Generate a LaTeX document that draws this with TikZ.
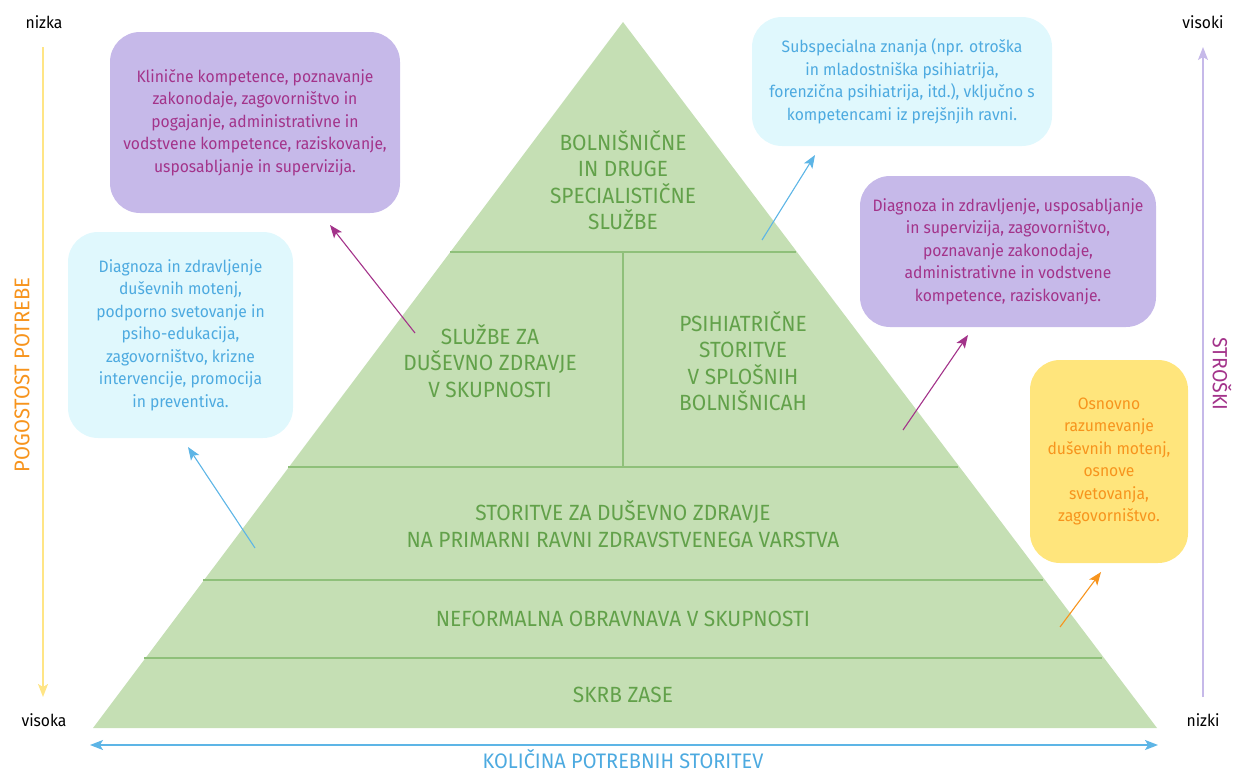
\documentclass[tikz,border=0pt]{standalone}
\usepackage{fontspec}
\setmainfont{Fira Sans}[FakeStretch=0.95]
\usetikzlibrary{arrows.meta}
\definecolor{pyrfill}{HTML}{C5DFB4}
\definecolor{pyrline}{HTML}{8FC07A}
\definecolor{pyrtext}{HTML}{62A14A}
\definecolor{lavfill}{HTML}{C6B9E9}
\definecolor{magtext}{HTML}{A3338A}
\definecolor{cyanfill}{HTML}{E0F8FD}
\definecolor{bluetext}{HTML}{4DAAE0}
\definecolor{yelfill}{HTML}{FFE57C}
\definecolor{orangetext}{HTML}{F7941D}
\definecolor{axisyellow}{HTML}{FFE585}
\definecolor{axisblue}{HTML}{5DB5E6}
\tikzset{
  box/.style={rounded corners=30pt, align=center, inner sep=0pt, font=\fontsize{16.5}{22.5}\selectfont},
  tier/.style={align=center, text=pyrtext, font=\fontsize{22}{26.5}\selectfont},
  divider/.style={draw=pyrline, line width=1.2pt},
  conn/.style={line width=1.1pt, -{Stealth[length=13pt,width=10pt,inset=3pt]}},
  axislbl/.style={font=\fontsize{16.5}{20}\selectfont, text=black},
}
\begin{document}
\begin{tikzpicture}[x=1pt,y=-1pt]
\useasboundingbox (0,0) rectangle (1233,774);
% pyramid
\fill[pyrfill] (623,22) -- (1157,728) -- (93,728) -- cycle;
\draw[divider] (450,252) -- (796,252);
\draw[divider] (288,467) -- (958,467);
\draw[divider] (203,580) -- (1043,580);
\draw[divider] (144,658) -- (1102,658);
\draw[divider] (623,252) -- (623,467);
\node[tier] (t1) at (623,180) {BOLNIŠNIČNE\\IN DRUGE\\SPECIALISTIČNE\\SLUŽBE};
\node[tier] (t2a) at (490,361) {SLUŽBE ZA\\DUŠEVNO ZDRAVJE\\V SKUPNOSTI};
\node[tier] (t2b) at (743,361) {PSIHIATRIČNE\\STORITVE\\V SPLOŠNIH\\BOLNIŠNICAH};
\node[tier] (t3) at (623,524) {STORITVE ZA DUŠEVNO ZDRAVJE\\NA PRIMARNI RAVNI ZDRAVSTVENEGA VARSTVA};
\node[tier] (t4) at (623,619) {NEFORMALNA OBRAVNAVA V SKUPNOSTI};
\node[tier] (t5) at (623,695) {SKRB ZASE};
% boxes
\node[box, fill=lavfill, text=magtext, minimum width=290pt, minimum height=181pt] (b1) at (255,122.5)
  {Klinične kompetence, poznavanje\\zakonodaje, zagovorništvo in\\pogajanje, administrativne in\\vodstvene kompetence, raziskovanje,\\usposabljanje in supervizija.};
\node[box, fill=cyanfill, text=bluetext, minimum width=300pt, minimum height=129pt] (b2) at (902,81.5)
  {Subspecialna znanja (npr. otroška\\in mladostniška psihiatrija,\\forenzična psihiatrija, itd.), vključno s\\kompetencami iz prejšnjih ravni.};
\node[box, fill=cyanfill, text=bluetext, minimum width=225pt, minimum height=206pt] (b3) at (180.5,335)
  {Diagnoza in zdravljenje\\duševnih motenj,\\podporno svetovanje in\\psiho-edukacija,\\zagovorništvo, krizne\\intervencije, promocija\\in preventiva.};
\node[box, fill=lavfill, text=magtext, minimum width=296pt, minimum height=151pt] (b4) at (1008,251.5)
  {Diagnoza in zdravljenje, usposabljanje\\in supervizija, zagovorništvo,\\poznavanje zakonodaje,\\administrativne in vodstvene\\kompetence, raziskovanje.};
\node[box, fill=yelfill, text=orangetext, minimum width=158pt, minimum height=203pt] (b5) at (1109,461.5)
  {Osnovno\\razumevanje\\duševnih motenj,\\osnove\\svetovanja,\\zagovorništvo.};
% connectors
\coordinate (s1) at (415,333); \coordinate (e1) at (330,225);
\coordinate (s2) at (762,240); \coordinate (e2) at (815,155);
\coordinate (s3) at (255,548); \coordinate (e3) at (188,447);
\coordinate (s4) at (903,430); \coordinate (e4) at (968,335);
\coordinate (s5) at (1060,627); \coordinate (e5) at (1101,572);
\draw[conn, magtext] (s1) -- (e1);
\draw[conn, axisblue] (s2) -- (e2);
\draw[conn, axisblue] (s3) -- (e3);
\draw[conn, magtext] (s4) -- (e4);
\draw[conn, orangetext] (s5) -- (e5);
% axes
\node[axislbl] (nizka) at (44,22) {nizka};
\node[axislbl] (visoka) at (44,720) {visoka};
\node[axislbl] (visoki) at (1203,22) {visoki};
\node[axislbl] (nizki) at (1203,720) {nizki};
\coordinate (ly1) at (43,47); \coordinate (ly2) at (43,697);
\draw[axisyellow, line width=1.5pt, -{Stealth[length=13pt,width=10pt,inset=3pt]}] (ly1) -- (ly2);
\coordinate (ry1) at (1203,697); \coordinate (ry2) at (1203,47);
\draw[lavfill, line width=1.5pt, -{Stealth[length=13pt,width=10pt,inset=3pt]}] (ry1) -- (ry2);
\coordinate (bx1) at (90,745); \coordinate (bx2) at (1158,745);
\draw[axisblue, line width=1.5pt, {Stealth[length=13pt,width=10pt,inset=3pt]}-{Stealth[length=13pt,width=10pt,inset=3pt]}] (bx1) -- (bx2);
\node[rotate=90, text=orangetext, font=\fontsize{21.3}{24}\selectfont] (pog) at (22,375) {POGOSTOST POTREBE};
\node[rotate=-90, text=magtext, font=\fontsize{20.5}{24}\selectfont] (stro) at (1222,374) {STROŠKI};
\node[text=bluetext, inner sep=0.5pt, font=\fontsize{21}{23}\selectfont] (kol) at (623,759) {KOLIČINA POTREBNIH STORITEV};
\end{tikzpicture}
\end{document}
